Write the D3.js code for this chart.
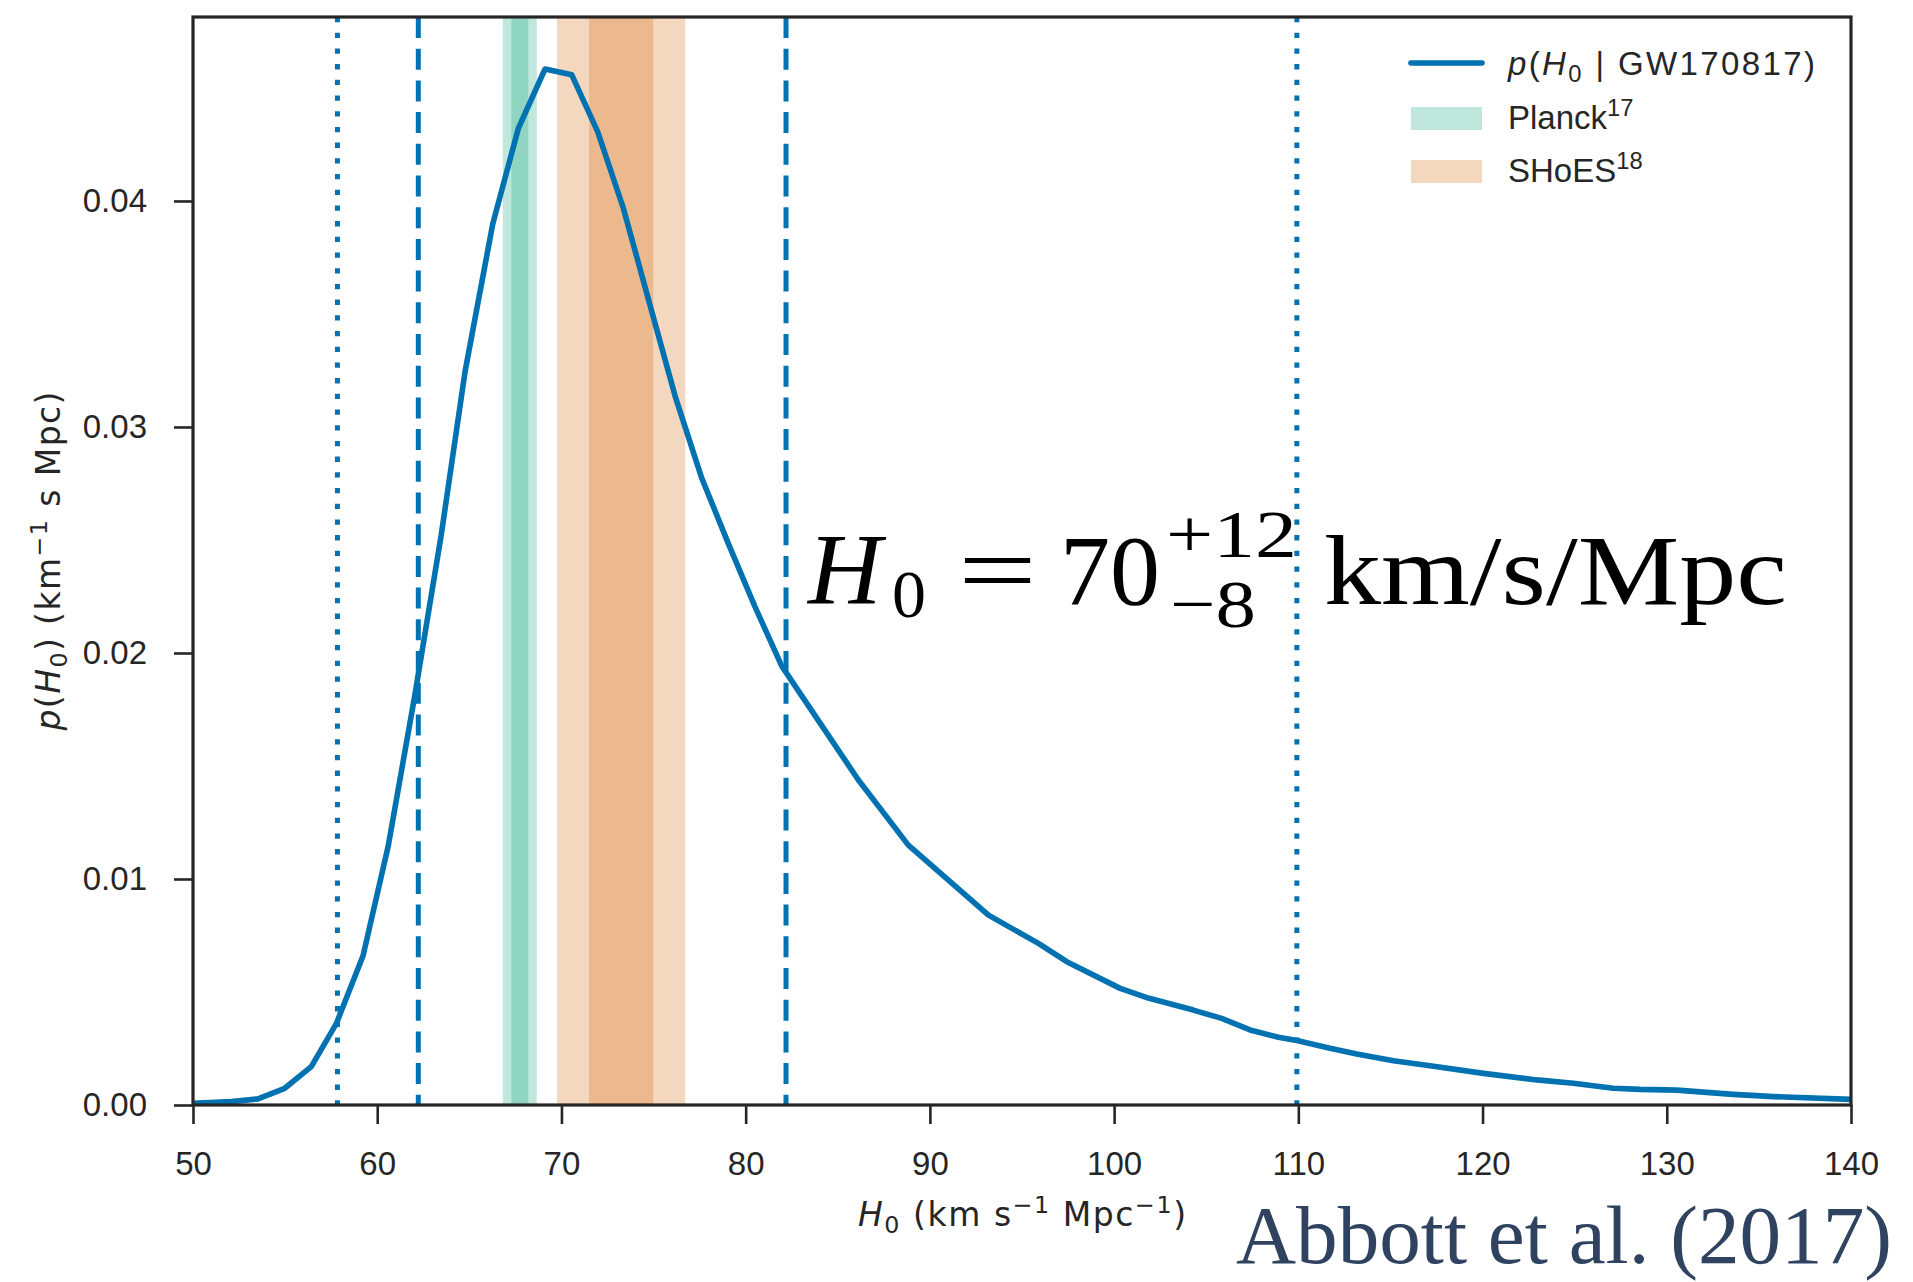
<!DOCTYPE html>
<html lang="en">
<head>
  <meta charset="UTF-8" />
  <title>H0 posterior GW170817</title>
  <style>
    body { margin: 0; background: white; }
    svg { display: block; }
    .tick text { font-family: 'Liberation Sans', Arial, sans-serif; font-size: 33px; fill: #262626; }
    .tick line { stroke: #262626; stroke-width: 2.6; }
    .lbl { font-family: 'Liberation Sans', Arial, sans-serif; font-size: 33px; fill: #262626; }
    .math { font-family: 'DejaVu Sans', sans-serif; }
  </style>
  <script src="https://d3js.org/d3.v7.min.js"></script>
</head>
<body>
  <div id="chart"></div>
  <script>
    // posterior p(H0 | GW170817)
    const h0Values = [50, 52.08, 53.53, 54.98, 56.42, 57.78, 59.23, 60.59, 62.03, 63.47,
      64.77, 66.27, 67.66, 69.11, 70.56, 71.96, 73.36, 74.81, 76.17, 77.62,
      79.06, 80.51, 81.96, 83.32, 86.12, 88.83, 93.18, 95.89, 97.43, 100.33,
      101.9, 104.3, 105.84, 107.38, 108.92, 109.92, 111.72, 113.17, 115.16, 117.15,
      120.05, 122.94, 124.93, 127.1, 128.55, 130.54, 133.6, 135.8, 140];
    const pValues = [0.00008, 0.00015, 0.00027, 0.00074, 0.0017, 0.0036, 0.0066, 0.01143, 0.01807, 0.0252,
      0.03246, 0.03898, 0.04321, 0.04584, 0.04558, 0.04308, 0.03968, 0.03539, 0.03137, 0.02773,
      0.02484, 0.02204, 0.01942, 0.01777, 0.01438, 0.0115, 0.0084, 0.00715, 0.00634, 0.00516,
      0.00472, 0.0042, 0.00383, 0.00332, 0.003, 0.00285, 0.00251, 0.00226, 0.00196, 0.00174,
      0.0014, 0.00111, 0.00096, 0.00074, 0.00069, 0.00066, 0.00047, 0.00037, 0.00025];

    // credible intervals
    const dashedLines = [62.23, 82.19];   // 68.3%
    const dottedLines = [57.84, 109.92];  // 95.4%

    // Planck and SHoES bands (2 sigma, 1 sigma)
    const planckBands = [[66.82, 68.66], [67.28, 68.20]];
    const shoesBands = [[69.76, 76.72], [71.50, 74.98]];

    const xTicks = [50, 60, 70, 80, 90, 100, 110, 120, 130, 140];
    const yTicks = [0, 0.01, 0.02, 0.03, 0.04];

    const blue = "#0072B2";
    const green = "#009E73";
    const orange = "#D55E00";
    const ink = "#262626";

    const W = 1913, H = 1282;
    const margin = {left: 193, top: 17, right: 62, bottom: 177};
    const iw = W - margin.left - margin.right;
    const ih = H - margin.top - margin.bottom;

    const svg = d3.select("#chart").append("svg")
      .attr("width", W).attr("height", H);

    const x = d3.scaleLinear().domain([50, 140]).range([0, iw]);
    const y = d3.scaleLinear().domain([0, 0.04814]).range([ih, 0]);

    const g = svg.append("g").attr("transform", `translate(${margin.left},${margin.top})`);

    // bands
    const bands = g.append("g");
    planckBands.forEach(b => {
      bands.append("rect")
        .attr("x", x(b[0])).attr("width", x(b[1]) - x(b[0]))
        .attr("y", 0).attr("height", ih)
        .attr("fill", green).attr("fill-opacity", 0.25);
    });
    shoesBands.forEach(b => {
      bands.append("rect")
        .attr("x", x(b[0])).attr("width", x(b[1]) - x(b[0]))
        .attr("y", 0).attr("height", ih)
        .attr("fill", orange).attr("fill-opacity", 0.25);
    });

    // interval lines
    g.selectAll("line.dash").data(dashedLines).enter().append("line")
      .attr("x1", d => x(d)).attr("x2", d => x(d))
      .attr("y1", 0).attr("y2", ih)
      .attr("stroke", blue).attr("stroke-width", 5)
      .attr("stroke-dasharray", "21,10.7");
    g.selectAll("line.dot").data(dottedLines).enter().append("line")
      .attr("x1", d => x(d)).attr("x2", d => x(d))
      .attr("y1", 0).attr("y2", ih)
      .attr("stroke", blue).attr("stroke-width", 5)
      .attr("stroke-dasharray", "5.3,10.4");

    // posterior curve
    const curve = h0Values.map((h, i) => [h, pValues[i]]);
    g.append("path")
      .datum(curve)
      .attr("fill", "none")
      .attr("stroke", blue)
      .attr("stroke-width", 5.6)
      .attr("stroke-linejoin", "round")
      .attr("d", d3.line().x(d => x(d[0])).y(d => y(d[1])));

    // axes
    const xAxis = g.append("g")
      .attr("transform", `translate(0,${ih})`)
      .call(d3.axisBottom(x).tickValues(xTicks).tickSize(19).tickPadding(28).tickFormat(d3.format("d")));
    const yAxis = g.append("g")
      .call(d3.axisLeft(y).tickValues(yTicks).tickSize(19).tickPadding(27).tickFormat(d3.format(".2f")));
    xAxis.select(".domain").remove();
    yAxis.select(".domain").remove();

    // spines
    g.append("rect")
      .attr("x", 0).attr("y", 0).attr("width", iw).attr("height", ih)
      .attr("fill", "none").attr("stroke", ink).attr("stroke-width", 3.2);

    // rich text helper: parts are [text, kind]
    function rich(sel, parts, size) {
      let shift = 0;
      parts.forEach(([t, kind]) => {
        const ts = sel.append("tspan").text(t);
        let target = 0;
        if (kind === "sub") target = size * 0.22;
        if (kind === "sup") target = -size * 0.4;
        if (kind === "sub" || kind === "sup") ts.attr("font-size", size * 0.72);
        if (kind === "i") ts.attr("font-style", "italic");
        if (target !== shift) { ts.attr("dy", target - shift); shift = target; }
      });
    }

    // x label
    const xl = svg.append("text").attr("class", "lbl math")
      .attr("x", margin.left + iw / 2).attr("y", 1226)
      .attr("text-anchor", "middle")
      .attr("textLength", 328).attr("lengthAdjust", "spacing");
    rich(xl, [["H", "i"], ["0", "sub"], [" (km s", ""], ["\u22121", "sup"], [" Mpc", ""], ["\u22121", "sup"], [")", ""]], 33);

    // y label
    const yl = svg.append("text").attr("class", "lbl math")
      .attr("transform", `translate(60,${margin.top + ih / 2}) rotate(-90)`)
      .attr("text-anchor", "middle")
      .attr("textLength", 339).attr("lengthAdjust", "spacing");
    rich(yl, [["p", "i"], ["(", ""], ["H", "i"], ["0", "sub"], [") (km", ""], ["\u22121", "sup"], [" s Mpc)", ""]], 33);

    // legend
    const lg = svg.append("g");
    lg.append("line")
      .attr("x1", 1411).attr("x2", 1482).attr("y1", 63).attr("y2", 63)
      .attr("stroke", blue).attr("stroke-width", 5.6).attr("stroke-linecap", "round");
    lg.append("rect").attr("x", 1411).attr("y", 107).attr("width", 71).attr("height", 23)
      .attr("fill", green).attr("fill-opacity", 0.25);
    lg.append("rect").attr("x", 1411).attr("y", 160).attr("width", 71).attr("height", 23)
      .attr("fill", orange).attr("fill-opacity", 0.25);
    const l1 = lg.append("text").attr("class", "lbl").attr("x", 1508).attr("y", 75)
      .attr("textLength", 307).attr("lengthAdjust", "spacing");
    rich(l1, [["p", "i"], ["(", ""], ["H", "i"], ["0", "sub"], [" | GW170817)", ""]], 33);
    const l2 = lg.append("text").attr("class", "lbl").attr("x", 1508).attr("y", 129);
    rich(l2, [["Planck", ""], ["17", "sup"]], 33);
    const l3 = lg.append("text").attr("class", "lbl").attr("x", 1508).attr("y", 182);
    rich(l3, [["SHoES", ""], ["18", "sup"]], 33);

    // big annotation
    const serif = "'Liberation Serif', 'Times New Roman', serif";
    const ann = svg.append("g").attr("font-family", serif).attr("fill", "black");
    ann.append("text").attr("x", 808).attr("y", 604).attr("font-size", 102)
      .attr("font-style", "italic").text("H");
    ann.append("text").attr("x", 892).attr("y", 617).attr("font-size", 68).text("0");
    ann.append("text").attr("x", 958).attr("y", 604).attr("font-size", 100)
      .attr("textLength", 79).attr("lengthAdjust", "spacingAndGlyphs").text("=");
    ann.append("text").attr("x", 1060).attr("y", 604).attr("font-size", 100).text("70");
    ann.append("text").attr("x", 1166).attr("y", 557).attr("font-size", 68)
      .attr("textLength", 131).attr("lengthAdjust", "spacingAndGlyphs").text("+12");
    ann.append("text").attr("x", 1170).attr("y", 627).attr("font-size", 68)
      .attr("textLength", 86).attr("lengthAdjust", "spacingAndGlyphs").text("\u22128");
    ann.append("text").attr("x", 1324).attr("y", 604).attr("font-size", 100)
      .attr("textLength", 463).attr("lengthAdjust", "spacingAndGlyphs").text("km/s/Mpc");

    // citation
    svg.append("text")
      .attr("x", 1236).attr("y", 1263)
      .attr("font-family", serif).attr("font-size", 82)
      .attr("fill", "#2f4260")
      .attr("textLength", 656).attr("lengthAdjust", "spacingAndGlyphs")
      .text("Abbott et al. (2017)");
  </script>
</body>
</html>
